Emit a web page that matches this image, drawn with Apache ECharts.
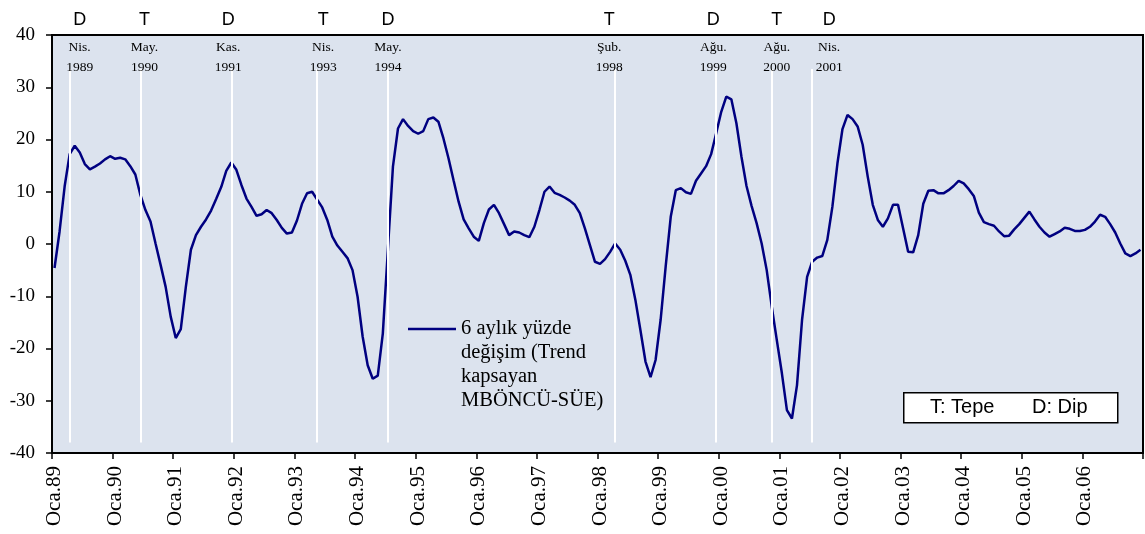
<!DOCTYPE html>
<html>
<head>
<meta charset="utf-8">
<script src="https://cdn.jsdelivr.net/npm/echarts@6/dist/echarts.min.js"></script>
<style>
html, body { margin: 0; padding: 0; background: #fff; }
#grafik { width: 1145px; height: 534px; }
</style>
</head>
<body>
<div id="grafik"></div>
<script>
// eksen: aylar ve yıllar
const aylar = ['Oca', 'Şub', 'Mar', 'Nis', 'May', 'Haz', 'Tem', 'Ağu', 'Eyl', 'Eki', 'Kas', 'Ara'];
const yillar = [1989, 1990, 1991, 1992, 1993, 1994, 1995, 1996, 1997, 1998,
                1999, 2000, 2001, 2002, 2003, 2004, 2005, 2006];

// 6 aylık yüzde değişim (her satır bir yıl, Oca..Ara)
const degisim = [
    -4.6, 2.4, 11.0, 17.2, 18.8, 17.5, 15.3, 14.3, 14.8, 15.4, 16.2, 16.8,
    16.3, 16.5, 16.2, 14.9, 13.3, 9.4, 6.5, 4.3, 0.1, -4.0, -8.2, -13.9,
    -18.0, -16.3, -8.2, -1.1, 1.7, 3.3, 4.7, 6.4, 8.6, 10.9, 14.0, 15.6,
    14.2, 11.3, 8.7, 7.1, 5.4, 5.7, 6.5, 5.9, 4.6, 3.1, 2.0, 2.2,
    4.5, 7.7, 9.7, 10.0, 8.5, 7.0, 4.6, 1.4, -0.3, -1.5, -2.7, -5.0,
    -10.1, -17.7, -23.2, -25.8, -25.2, -17.1, -1.1, 14.8, 22.1, 23.9, 22.6, 21.6,
    21.1, 21.6, 23.9, 24.2, 23.4, 20.2, 16.4, 12.2, 8.1, 4.7, 3.0, 1.4,
    0.6, 4.0, 6.6, 7.5, 5.9, 3.8, 1.7, 2.4, 2.2, 1.7, 1.3, 3.3,
    6.5, 10.0, 11.0, 9.8, 9.4, 8.9, 8.3, 7.5, 5.9, 3.0, -0.2, -3.4,
    -3.8, -2.9, -1.5, 0.1, -1.1, -3.2, -5.9, -10.7, -16.5, -22.5, -25.5, -22.2,
    -14.5, -4.3, 5.2, 10.3, 10.7, 9.9, 9.6, 12.1, 13.5, 14.9, 17.2, 21.2,
    25.3, 28.2, 27.7, 23.1, 16.7, 11.1, 7.3, 4.0, 0.1, -5.0, -12.0, -18.4,
    -24.7, -31.8, -33.4, -27.0, -14.5, -6.3, -3.4, -2.6, -2.3, 0.8, 7.1, 15.4,
    22.0, 24.7, 23.9, 22.5, 19.0, 12.9, 7.5, 4.6, 3.3, 4.9, 7.5, 7.5,
    3.0, -1.5, -1.6, 1.7, 7.7, 10.2, 10.3, 9.7, 9.7, 10.3, 11.1, 12.1,
    11.6, 10.5, 9.2, 6.0, 4.2, 3.8, 3.5, 2.4, 1.5, 1.6, 2.8, 3.8,
    5.0, 6.2, 4.7, 3.3, 2.2, 1.4, 1.9, 2.4, 3.1, 2.9, 2.5, 2.5,
    2.7, 3.3, 4.3, 5.6, 5.2, 3.8, 2.2, 0.1, -1.8, -2.3, -1.8, -1.1
];

// dönüm noktaları (çizgilerin resimdeki yeri, ay sırası olarak)
const donumAy = [3, 17, 35, 52, 66, 111, 131, 142, 150];
const donumTarih = ['Nis.\n1989', 'May.\n1990', 'Kas.\n1991', 'Nis.\n1993', 'May.\n1994',
                    'Şub.\n1998', 'Ağu.\n1999', 'Ağu.\n2000', 'Nis.\n2001'];
const donumTip = ['D', 'T', 'D', 'T', 'D', 'T', 'D', 'T', 'D'];

// etiketlerin çizgiye göre yatay kayması (px)
const etiketKayma = [10, 4, -3, 6, 0, -6, -3, 5, 17];

const seriAdi = '6 aylık yüzde\ndeğişim (Trend\nkapsayan\nMBÖNCÜ-SÜE)';

const kategoriler = [];
yillar.forEach(y => {
    aylar.forEach(a => kategoriler.push(a + '.' + String(y).slice(2)));
});

const donumCizgileri = donumAy.map((ay, i) => {
    const k = etiketKayma[i];
    const tarih = donumTarih[i].split('\n');
    return [
        {
            coord: [ay, -38],
            label: {
                formatter: '{t|' + donumTip[i] + '}\n{d|' + tarih[0] + '}\n{d|' + tarih[1] + '}',
                padding: k >= 0 ? [0, 0, 0, 2 * k] : [0, -2 * k, 0, 0]
            }
        },
        { coord: [ay, 33.5] }
    ];
});

const myChart = echarts.init(document.getElementById('grafik'));

myChart.setOption({
    animation: false,
    backgroundColor: '#fff',
    grid: {
        left: 52,
        right: 2,
        top: 35,
        bottom: 81,
        show: true,
        backgroundColor: '#DCE3EE',
        borderColor: '#000',
        borderWidth: 2
    },
    legend: {
        left: 403,
        top: 240,
        icon: 'rect',
        itemWidth: 48,
        itemHeight: 2.5,
        data: [seriAdi],
        // boş satırlar: ilk satır çizgi hizasında dursun
        formatter: name => '\n\n\n' + name,
        textStyle: {
            fontFamily: 'Liberation Serif',
            fontSize: 20.5,
            lineHeight: 24,
            color: '#000'
        }
    },
    xAxis: {
        type: 'category',
        data: kategoriler,
        boundaryGap: true,
        axisLine: { onZero: false, lineStyle: { color: '#000', width: 2 } },
        axisTick: { show: true, interval: 11, length: 6, lineStyle: { color: '#000', width: 1.5 } },
        axisLabel: {
            interval: 11,
            rotate: 90,
            margin: 13,
            fontFamily: 'Liberation Serif',
            fontSize: 21,
            color: '#000'
        },
        splitLine: { show: false }
    },
    yAxis: {
        type: 'value',
        min: -40,
        max: 40,
        interval: 10,
        axisLine: { show: true, lineStyle: { color: '#000', width: 2 } },
        axisTick: { show: true, length: 6, lineStyle: { color: '#000', width: 1.5 } },
        axisLabel: {
            margin: 17,
            fontFamily: 'Liberation Serif',
            fontSize: 19,
            color: '#000'
        },
        splitLine: { show: false }
    },
    series: [
        {
            name: seriAdi,
            type: 'line',
            data: degisim,
            symbol: 'none',
            lineStyle: { color: '#000080', width: 2.5 },
            itemStyle: { color: '#000080' },
            markLine: {
                silent: true,
                symbol: ['none', 'none'],
                lineStyle: { color: '#fff', width: 2, type: 'solid' },
                label: {
                    position: 'end',
                    distance: -8.5,
                    color: '#000',
                    rich: {
                        t: { fontFamily: 'Liberation Sans', fontSize: 18, lineHeight: 34, color: '#000' },
                        d: { fontFamily: 'Liberation Serif', fontSize: 13.5, lineHeight: 20, color: '#000' }
                    }
                },
                data: donumCizgileri
            }
        }
    ],
    graphic: [
        {
            type: 'rect',
            left: 903,
            top: 392,
            shape: { width: 214, height: 30 },
            style: { fill: '#fff', stroke: '#000', lineWidth: 1.5 }
        },
        {
            type: 'text',
            left: 930,
            top: 397,
            style: { text: 'T: Tepe', font: '20px "Liberation Sans"', fill: '#000' }
        },
        {
            type: 'text',
            left: 1032,
            top: 397,
            style: { text: 'D: Dip', font: '20px "Liberation Sans"', fill: '#000' }
        }
    ]
});

window.addEventListener('resize', () => {
    myChart.resize();
});
</script>
</body>
</html>
